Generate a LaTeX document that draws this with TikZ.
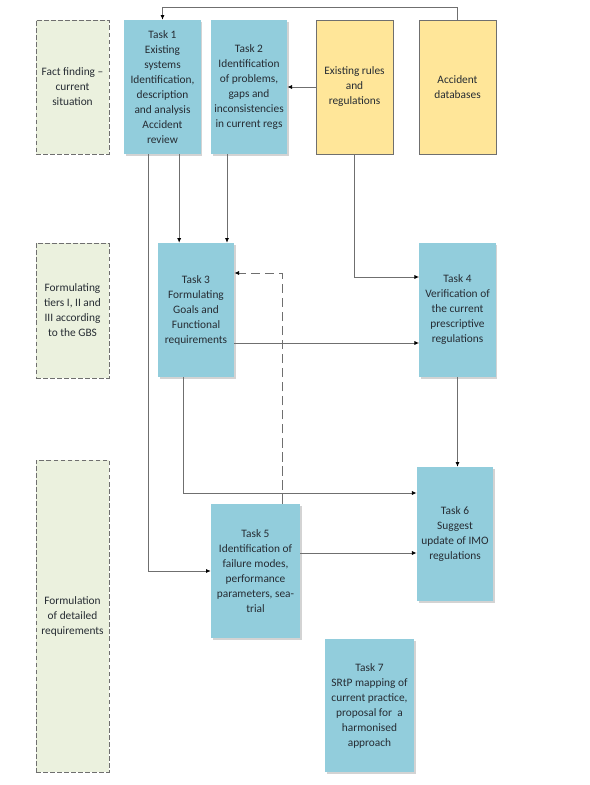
\documentclass[tikz,border=0pt]{standalone}
\usepackage{fontspec}
\setmainfont{Carlito}
\usepackage{xcolor}
\usetikzlibrary{arrows.meta,shadows}
\definecolor{taskblue}{HTML}{92CDDC}
\definecolor{srcyellow}{HTML}{FFE699}
\definecolor{phasegreen}{HTML}{EBF1DE}
\definecolor{linegray}{HTML}{6F6F6F}
\definecolor{txtgray}{HTML}{262C33}

\begin{document}
\begin{tikzpicture}[x=0.03cm, y=-0.03cm,
	every node/.style={font=\fontsize{9.7}{12.8}\selectfont, text=txtgray, align=center, inner sep=1pt},
	task/.style={fill=taskblue, minimum width=2.29cm, minimum height=4.02cm, drop shadow={shadow xshift=0.5mm, shadow yshift=-0.5mm, opacity=0.35}},
	source/.style={fill=srcyellow, draw=linegray, line width=0.6pt, minimum width=2.31cm, minimum height=4.02cm},
	phase/.style={fill=phasegreen, draw=linegray, line width=0.8pt, dash pattern=on 4pt off 2pt, minimum width=2.19cm},
	arr/.style={draw=linegray, line width=0.7pt, -{Latex[length=4pt,width=3.5pt,color=black]}},
	dasharr/.style={arr, dash pattern=on 8pt off 4pt}]
		\useasboundingbox (0,0) rectangle (590,785);
		\node[phase, minimum height=4.02cm] (fact) at (72.5,87) {Fact finding –\\current\\situation};
		\node[task] (task1) at (162.5,87) {Task 1\\Existing\\systems\\Identification,\\description\\and analysis\\Accident\\review};
		\node[task] (task2) at (249,87) {Task 2\\Identification\\of problems,\\gaps and\\inconsistencies\\in current regs};
		\node[source] (rules) at (354.5,87) {Existing rules\\and\\regulations};
		\node[source] (accdb) at (457.5,87) {Accident\\databases};
		\node[phase, minimum height=4.05cm] (tiers) at (72.5,310.5) {Formulating\\tiers I, II and\\III according\\to the GBS};
		\node[task] (task3) at (196,310) {Task 3\\Formulating\\Goals and\\Functional\\requirements};
		\node[task] (task4) at (457.5,310) {Task 4\\Verification of\\the current\\prescriptive\\regulations};
		\node[phase, minimum height=9.36cm] (detail) at (72.5,616) {Formulation\\of detailed\\requirements};
		\node[task, minimum width=2.67cm] (task5) at (255.5,571) {Task 5\\Identification of\\failure modes,\\performance\\parameters, sea-\\trial};
		\node[task] (task6) at (455,534) {Task 6\\Suggest\\update of IMO\\regulations};
		\node[task, minimum width=2.67cm, minimum height=3.99cm] (task7) at (369.5,705.5) {Task 7\\SRtP mapping of\\current practice,\\proposal for\ \ a\\harmonised\\approach};
		\draw[arr] (accdb.north) -- ++(0,-12) -| (task1.north);
		\draw[arr] (rules) -- (task2);
		\draw[arr] ([xshift=-0.435cm]task1.south) |- (task5.west);
		\draw[arr] ([xshift=0.5cm]task1.south) -- ([xshift=0.5cm]task1.south |- task3.north);
		\draw[arr] ([xshift=-0.66cm]task2.south) -- ([xshift=-0.66cm]task2.south |- task3.north);
		\draw[arr] (rules.south) |- ([yshift=0.99cm]task4.west);
		\draw[arr] ([yshift=-0.99cm]task3.east) -- ([yshift=-0.99cm]task3.east -| task4.west);
		\draw[dasharr] ([xshift=0.8cm]task5.north) |- ([yshift=1.11cm]task3.east);
		\draw[arr] ([xshift=-0.39cm]task3.south) |- ([yshift=1.23cm]task6.west);
		\draw[arr] (task4.south) -- (task4.south |- task6.north);
		\draw[arr] ([yshift=0.54cm]task5.east) -- ([yshift=0.54cm]task5.east -| task6.west);
\end{tikzpicture}
\end{document}
